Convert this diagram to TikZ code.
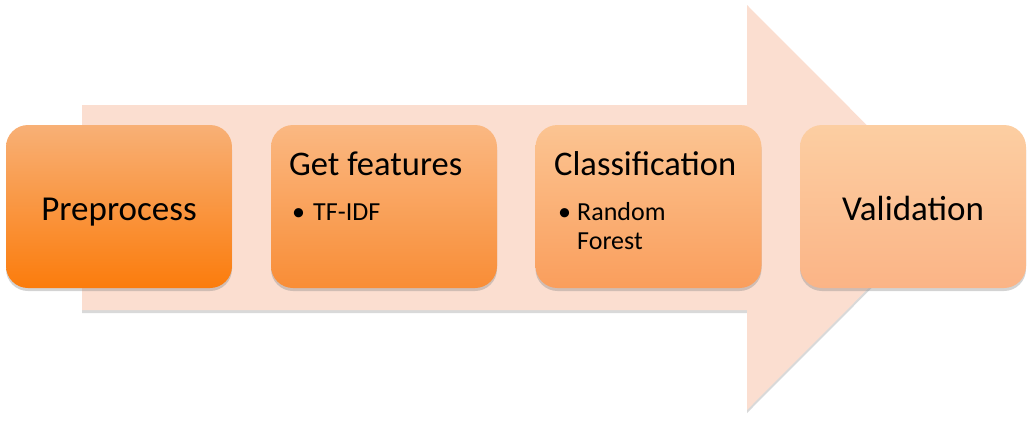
\documentclass[tikz,border=0pt]{standalone}
\usepackage{fontspec}
\setmainfont{Carlito}
\usetikzlibrary{shadows}
\definecolor{arrowfill}{RGB}{251,222,208}
\definecolor{preTop}{RGB}{248,176,118}
\definecolor{preBot}{RGB}{251,124,12}
\definecolor{feaTop}{RGB}{250,184,130}
\definecolor{feaBot}{RGB}{249,141,54}
\definecolor{claTop}{RGB}{251,196,146}
\definecolor{claBot}{RGB}{250,158,92}
\definecolor{valTop}{RGB}{252,206,162}
\definecolor{valBot}{RGB}{251,180,134}
\tikzset{
  stagebox/.style={rectangle, rounded corners=22pt, minimum width=226pt,
    minimum height=163pt, inner sep=0pt,
    drop shadow={opacity=0.35, shadow xshift=0pt, shadow yshift=-3pt}},
  titletext/.style={anchor=base west, inner sep=0pt, font=\fontsize{34.5}{40}\selectfont},
  itemtext/.style={anchor=base west, inner sep=0pt, font=\fontsize{26}{31}\selectfont},
  bigtext/.style={font=\fontsize{35}{40}\selectfont},
}
\begin{document}
\begin{tikzpicture}[x=1pt,y=-1pt]
\useasboundingbox (0,0) rectangle (1034,421);
% large background arrow
\path[fill=arrowfill, drop shadow={opacity=0.3, shadow xshift=0pt, shadow yshift=-3pt}]
  (82,105) -- (747,105) -- (747,5) -- (949,207.5) -- (747,410) -- (747,310) -- (82,310) -- cycle;
% stages
\node[stagebox, top color=preTop, bottom color=preBot] (pre) at (119,206.5) {};
\node[stagebox, top color=feaTop, bottom color=feaBot] (fea) at (384,206.5) {};
\node[stagebox, top color=claTop, bottom color=claBot] (cla) at (648.5,206.5) {};
\node[stagebox, top color=valTop, bottom color=valBot] (val) at (913,206.5) {};
% labels
\node[bigtext, anchor=base] (pretxt) at (119,220) {Preprocess};
\node[bigtext, anchor=base] (valtxt) at (913,220) {Validation};
\node[titletext] (featitle) at (289,175) {Get features};
\node[itemtext] (feabul) at (292,220) {\textbullet};
\node[itemtext] (feaitem) at (313,220) {TF-IDF};
\node[titletext] (clatitle) at (554,175) {Classification};
\node[itemtext] (clabul) at (558,220) {\textbullet};
\node[itemtext] (claitem1) at (577,220) {Random};
\node[itemtext] (claitem2) at (577,249) {Forest};
\end{tikzpicture}
\end{document}
